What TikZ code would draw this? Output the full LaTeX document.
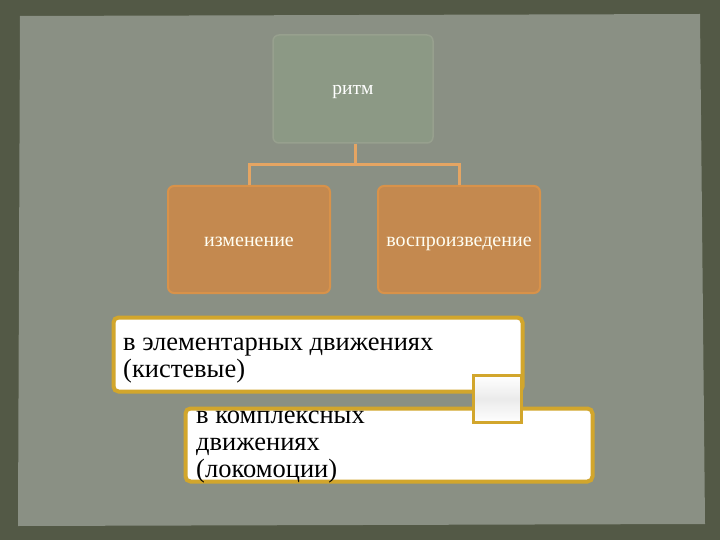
\documentclass[tikz,border=0pt]{standalone}
\usepackage{fontspec}
\setmainfont{Liberation Serif}
\definecolor{outerbg}{HTML}{535946}
\definecolor{innerbg}{HTML}{8A9084}
\definecolor{topfill}{HTML}{8C9985}
\definecolor{topborder}{HTML}{97A08E}
\definecolor{brownfill}{HTML}{C4894F}
\definecolor{brownborder}{HTML}{D8924A}
\definecolor{linkor}{HTML}{E5A563}
\definecolor{gold}{HTML}{D2A62C}
\begin{document}
\begin{tikzpicture}[x=1pt,y=-1pt,
  toplevel/.style={draw=topborder,line width=1.5pt,fill=topfill,rounded corners=6pt,minimum width=160pt,minimum height=108pt,text=white,font=\fontsize{19.5}{22}\selectfont,inner sep=0pt},
  sublevel/.style={draw=brownborder,line width=2pt,fill=brownfill,rounded corners=6pt,minimum width=162pt,minimum height=107pt,text=white!95!yellow,font=\fontsize{20}{22}\selectfont,inner sep=0pt},
  conn/.style={draw=linkor,line width=3pt},
  whitebox/.style={draw=gold,line width=4pt,fill=white,rounded corners=5pt,inner sep=0pt},
  bigtext/.style={font=\fontsize{26.5}{27}\selectfont,align=left,anchor=base west,inner sep=0pt,text=black}
]
\useasboundingbox (0,0) rectangle (720,540);
\fill[outerbg] (0,0) rectangle (720,540);
\fill[innerbg] (20,16) -- (700,14) -- (705,524) -- (18,526) -- cycle;

\node[toplevel] (ritm) at (353,89) {\smash{\raisebox{-6pt}{ритм}}};
\node[sublevel] (izm) at (249,239.5) {\smash{\raisebox{-6.5pt}{изменение}}};
\node[sublevel] (vos) at (459,239.5) {\smash{\raisebox{-6.5pt}{воспроизведение}}};

\coordinate (mid) at (355,165);
\draw[conn] (ritm.south -| mid) -- (mid);
\draw[conn] (izm.north) |- (mid) -| (vos.north);

\node[whitebox,minimum width=409pt,minimum height=74pt] (elem) at (318,354.5) {};
\node[bigtext] (elemtxt) at (123,377) {в элементарных движениях\\(кистевые)};
\node[whitebox,minimum width=407pt,minimum height=73pt] (kompl) at (389,445) {};
\node[draw=gold,line width=3pt,minimum width=48pt,minimum height=47pt,inner sep=0pt,
  top color=white,bottom color=white,middle color=black!8] (link) at (497.5,399) {};
\node[bigtext] (kompltxt) at (196,477) {в комплексных\\движениях\\(локомоции)};
\end{tikzpicture}
\end{document}
